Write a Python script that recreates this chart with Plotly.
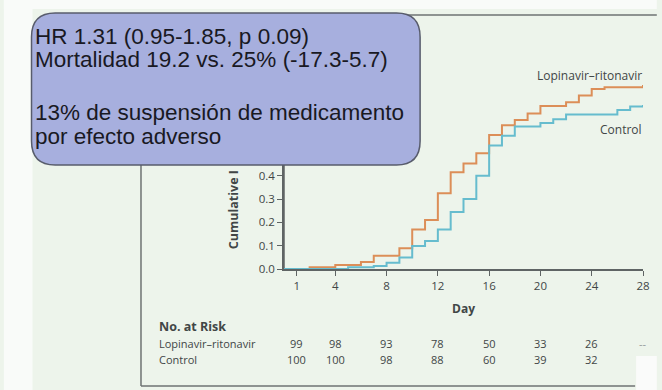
import plotly.graph_objects as go

# ---------------- data ----------------
lpv_days = [0, 2, 4, 6, 7, 9, 10, 11, 12, 13, 14, 15, 16, 17, 18, 19, 20, 22, 23, 24, 25, 28]
lpv_vals = [0, 0.007, 0.017, 0.03, 0.057, 0.089, 0.17, 0.21, 0.325, 0.415, 0.453, 0.497,
            0.575, 0.617, 0.64, 0.667, 0.70, 0.716, 0.745, 0.772, 0.78, 0.79]
ctl_days = [0, 5, 7, 8, 9, 10, 11, 12, 13, 14, 15, 16, 17, 18, 20, 21, 22, 26, 27, 28]
ctl_vals = [0, 0.007, 0.013, 0.027, 0.049, 0.099, 0.12, 0.17, 0.245, 0.30, 0.40, 0.53,
            0.572, 0.612, 0.627, 0.643, 0.663, 0.682, 0.697, 0.704]

x_ticks = [1, 4, 8, 12, 16, 20, 24, 28]
y_ticks = [0.0, 0.1, 0.2, 0.3, 0.4]

risk_days = [1, 4, 8, 12, 16, 20, 24, 28]
risk_lpv = ["99", "98", "93", "78", "50", "33", "26", "--"]
risk_ctl = ["100", "100", "98", "88", "60", "39", "32", ""]

series_names = ["Lopinavir\u2013ritonavir", "Control"]
box_lines = ["HR 1.31 (0.95-1.85, p 0.09)",
             "Mortalidad 19.2 vs. 25% (-17.3-5.7)",
             "",
             "13% de suspensión de medicamento",
             "por efecto adverso"]

# ---------------- layout geometry (pixels) ----------------
W, H = 662, 390
L, R, T, B = 284, 648, 36, 269  # plot area in pixels


def px(x):
    return (x - L) / (R - L)


def py(y):
    return (B - y) / (B - T)


ORANGE = "rgb(220,142,88)"
TEAL = "rgb(102,188,206)"
AXIS = "rgb(95,100,100)"
TXT = "rgb(65,70,70)"
BG = "rgb(237,244,235)"
SANS = "Open Sans, Lato, sans-serif"
FS = 11.5
RS = 11
ROW1, ROW2 = 343.5, 359

fig = go.Figure()
fig.add_trace(go.Scatter(x=lpv_days, y=lpv_vals, mode="lines", line_shape="hv",
                         line=dict(color=ORANGE, width=2), name=series_names[0],
                         showlegend=False, hoverinfo="skip"))
fig.add_trace(go.Scatter(x=ctl_days, y=ctl_vals, mode="lines", line_shape="hv",
                         line=dict(color=TEAL, width=2), name=series_names[1],
                         showlegend=False, hoverinfo="skip"))

shapes = []
# white margins of the photo
shapes.append(dict(type="rect", xref="paper", yref="paper", layer="below",
                   x0=px(0), x1=px(29), y0=py(H), y1=py(0),
                   fillcolor="rgb(249,251,249)", line=dict(width=0)))
shapes.append(dict(type="rect", xref="paper", yref="paper", layer="below",
                   x0=px(0), x1=px(W), y0=py(9), y1=py(0),
                   fillcolor="rgb(249,251,249)", line=dict(width=0)))
shapes.append(dict(type="rect", xref="paper", yref="paper", layer="below",
                   x0=px(641), x1=px(W), y0=py(H), y1=py(356),
                   fillcolor="rgb(250,251,250)", line=dict(width=0)))
# panel frame lines
shapes.append(dict(type="line", xref="paper", yref="paper", layer="below",
                   x0=px(139), x1=px(W), y0=py(15), y1=py(15),
                   line=dict(color="rgb(110,115,115)", width=1.5)))
shapes.append(dict(type="line", xref="paper", yref="paper", layer="below",
                   x0=px(139), x1=px(139), y0=py(15), y1=py(386),
                   line=dict(color="rgb(110,115,115)", width=1.5)))
shapes.append(dict(type="line", xref="paper", yref="paper", layer="below",
                   x0=px(139), x1=px(640), y0=py(386), y1=py(386),
                   line=dict(color="rgb(110,115,115)", width=1.5)))
# y axis continues up under the callout
shapes.append(dict(type="line", xref="paper", yref="paper", layer="below",
                   x0=0, x1=0, y0=0, y1=1,
                   line=dict(color=AXIS, width=1.5)))

# rounded callout box
bx0, by0, bx1, by1, r = 28, 13, 422, 165, 24


def P(x, y):
    return f"{px(x):.5f},{py(y):.5f}"


path = (f"M {P(bx0 + r, by0)} L {P(bx1 - r, by0)} Q {P(bx1, by0)} {P(bx1, by0 + r)} "
        f"L {P(bx1, by1 - r)} Q {P(bx1, by1)} {P(bx1 - r, by1)} "
        f"L {P(bx0 + r, by1)} Q {P(bx0, by1)} {P(bx0, by1 - r)} "
        f"L {P(bx0, by0 + r)} Q {P(bx0, by0)} {P(bx0 + r, by0)} Z")
shapes.append(dict(type="path", xref="paper", yref="paper", layer="above", path=path,
                   fillcolor="rgb(167,175,222)", line=dict(color="rgb(88,92,108)", width=1.5)))

annotations = []
# box text
line_y = [36, 60, 86, 112, 136]
for t, yy in zip(box_lines, line_y):
    if t:
        annotations.append(dict(text=t, xref="paper", yref="paper", x=px(30), y=py(yy),
                                xanchor="left", yanchor="middle", showarrow=False,
                                font=dict(family="Liberation Sans, Arial, sans-serif",
                                          size=22.5, color="rgb(25,25,35)")))
# series labels
annotations.append(dict(text=series_names[0], xref="paper", yref="paper", x=px(649), y=py(75),
                        xanchor="right", yanchor="middle", showarrow=False,
                        font=dict(family=SANS, size=12, color=TXT)))
annotations.append(dict(text=series_names[1], xref="paper", yref="paper", x=px(649), y=py(129),
                        xanchor="right", yanchor="middle", showarrow=False,
                        font=dict(family=SANS, size=12, color=TXT)))
# axis titles
annotations.append(dict(text="<b>Day</b>", xref="x", yref="paper", x=14, y=py(308),
                        xanchor="center", yanchor="middle", showarrow=False,
                        font=dict(family=SANS, size=12, color=TXT)))
annotations.append(dict(text="<b>Cumulative I</b>", xref="paper", yref="paper", x=px(233), y=py(251),
                        xanchor="center", yanchor="bottom", textangle=-90, showarrow=False,
                        font=dict(family=SANS, size=12.5, color=TXT)))
# number at risk table
annotations.append(dict(text="<b>No. at Risk</b>", xref="paper", yref="paper", x=px(155), y=py(326),
                        xanchor="left", yanchor="middle", showarrow=False,
                        font=dict(family=SANS, size=12.5, color=TXT)))
annotations.append(dict(text=series_names[0], xref="paper", yref="paper", x=px(155), y=py(ROW1),
                        xanchor="left", yanchor="middle", showarrow=False,
                        font=dict(family=SANS, size=RS, color=TXT)))
annotations.append(dict(text=series_names[1], xref="paper", yref="paper", x=px(155), y=py(ROW2),
                        xanchor="left", yanchor="middle", showarrow=False,
                        font=dict(family=SANS, size=RS, color=TXT)))
for d, a, c in zip(risk_days, risk_lpv, risk_ctl):
    if a:
        annotations.append(dict(text=a, xref="x", yref="paper", x=d, y=py(ROW1),
                                xanchor="center", yanchor="middle", showarrow=False,
                                font=dict(family=SANS, size=RS,
                                          color=TXT if a != "--" else "rgb(150,155,155)")))
    if c:
        annotations.append(dict(text=c, xref="x", yref="paper", x=d, y=py(ROW2),
                                xanchor="center", yanchor="middle", showarrow=False,
                                font=dict(family=SANS, size=RS, color=TXT)))

fig.update_layout(
    width=W, height=H,
    margin=dict(l=L, r=W - R, t=T, b=H - B, pad=0),
    paper_bgcolor=BG, plot_bgcolor=BG,
    shapes=shapes, annotations=annotations,
    xaxis=dict(range=[0, 28], tickvals=x_ticks, ticktext=[str(v) for v in x_ticks],
               showgrid=False, zeroline=False, showline=True, linecolor=AXIS, linewidth=1.5,
               ticks="outside", ticklen=5, tickcolor=AXIS, tickwidth=1.2,
               tickfont=dict(family=SANS, size=FS, color=TXT), fixedrange=True),
    yaxis=dict(range=[0, 1.0], tickvals=y_ticks, tickformat=".1f",
               showgrid=False, zeroline=False, showline=True, linecolor=AXIS, linewidth=1.5,
               ticks="outside", ticklen=5, tickcolor=AXIS, tickwidth=1.2,
               tickfont=dict(family=SANS, size=FS, color=TXT), fixedrange=True),
    showlegend=False,
)

fig.write_html("out.html", config={"displayModeBar": False},
               post_script="document.body.style.margin='0px';document.body.style.overflow='hidden';")
